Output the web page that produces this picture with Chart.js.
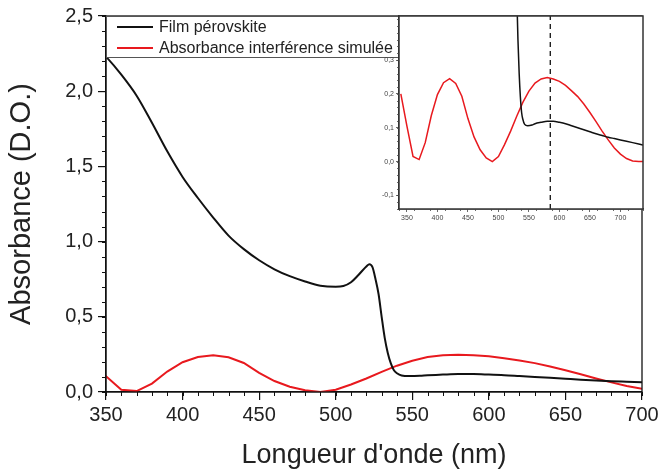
<!DOCTYPE html>
<html>
<head>
<meta charset="utf-8">
<script src="https://cdn.jsdelivr.net/npm/chart.js@4.4.1/dist/chart.umd.min.js"></script>
<style>
body { margin: 0; background: #fff; }
#wrap { position: relative; width: 659px; height: 472px; }
#wrap canvas { position: absolute; left: 0; top: 0; }
</style>
</head>
<body>
<div id="wrap">
<canvas id="mainChart" width="659" height="472"></canvas>
<canvas id="insetChart" width="659" height="472"></canvas>
</div>
<script>
/*---- donnees ----- */
var filmNm  = [340,350,360,370,380,390,400,410,420,430,440,450,460,470,480,490,500,505,510,515,520,522,524,526,528,530,532,534,536,538,540,543,548,555,560,570,580,590,600,610,620,630,640,650,660,670,680,690,700,710,720,730,740];
var filmAbs = [2.33,2.23,2.11,1.97,1.79,1.60,1.43,1.29,1.16,1.04,0.95,0.876,0.816,0.77,0.735,0.707,0.70,0.705,0.73,0.78,0.835,0.85,0.83,0.75,0.65,0.50,0.36,0.26,0.19,0.145,0.125,0.11,0.106,0.108,0.112,0.116,0.119,0.119,0.116,0.112,0.106,0.10,0.094,0.088,0.082,0.077,0.072,0.068,0.064,0.06,0.056,0.052,0.048];

var simNm  = [340,350,360,370,380,390,400,410,420,430,440,450,460,470,480,490,500,510,520,530,540,550,560,570,580,590,600,610,620,630,640,650,660,670,680,690,700,710,720,730,740];
var simAbs = [0.2,0.105,0.015,0.006,0.056,0.136,0.198,0.233,0.245,0.231,0.193,0.127,0.073,0.035,0.011,0.0,0.015,0.05,0.09,0.134,0.175,0.208,0.232,0.244,0.248,0.244,0.237,0.225,0.209,0.192,0.17,0.145,0.118,0.09,0.064,0.04,0.022,0.009,0.002,0.0,0.0];

var seriesLabels = ["Film pérovskite", "Absorbance interférence simulée"];
var markerNm = 585;

var mainXTicks  = [350,400,450,500,550,600,650,700];
var mainYTicks  = [0,0.5,1.0,1.5,2.0,2.5];
var insetXTicks = [350,400,450,500,550,600,650,700];
var insetYTicks = [-0.1,0,0.1,0.2,0.3];

var FONT = "'Liberation Sans', Arial, sans-serif";

function pts(xs, ys) {
  return xs.map(function (x, i) { return { x: x, y: ys[i] }; });
}
function virgule(v) {
  return v.toFixed(1).replace('.', ',');
}

/*---- plugins ----- */
var cadre = {
  id: 'cadre',
  beforeDatasetsDraw: function (chart, args, opts) {
    var a = chart.chartArea, ctx = chart.ctx;
    if (opts.fill) {
      ctx.save();
      ctx.fillStyle = opts.fill;
      ctx.fillRect(a.left, a.top, a.right - a.left, a.bottom - a.top);
      ctx.restore();
    }
  },
  afterDraw: function (chart, args, opts) {
    var a = chart.chartArea, ctx = chart.ctx;
    ctx.save();
    ctx.strokeStyle = opts.color;
    ctx.lineWidth = opts.width;
    ctx.strokeRect(a.left, a.top, a.right - a.left, a.bottom - a.top);
    ctx.restore();
  }
};

var petitsTraits = {
  id: 'petitsTraits',
  afterDraw: function (chart, args, opts) {
    var a = chart.chartArea, ctx = chart.ctx;
    var sx = chart.scales.x, sy = chart.scales.y;
    ctx.save();
    ctx.strokeStyle = opts.color;
    ctx.lineWidth = opts.width;
    var v, p;
    for (v = sx.min; v <= sx.max + 1e-9; v += opts.xStep) {
      p = Math.round(sx.getPixelForValue(v)) + 0.5;
      ctx.beginPath(); ctx.moveTo(p, a.bottom); ctx.lineTo(p, a.bottom + opts.len); ctx.stroke();
    }
    var start = Math.ceil(sy.min / opts.yStep - 1e-9) * opts.yStep;
    for (v = start; v <= sy.max + 1e-9; v += opts.yStep) {
      p = Math.round(sy.getPixelForValue(v)) + 0.5;
      ctx.beginPath(); ctx.moveTo(a.left, p); ctx.lineTo(a.left - opts.len, p); ctx.stroke();
    }
    ctx.restore();
  }
};

var legendeBoite = {
  id: 'legendeBoite',
  afterDraw: function (chart) {
    var ctx = chart.ctx, a = chart.chartArea;
    var x0 = a.left, y0 = a.top, w = 293, h = 41;
    ctx.save();
    ctx.fillStyle = '#fff';
    ctx.fillRect(x0, y0, w, h);
    ctx.strokeStyle = '#555';
    ctx.lineWidth = 1;
    ctx.strokeRect(x0 + 0.5, y0 + 0.5, w, h);
    ctx.font = '16px ' + FONT;
    ctx.textBaseline = 'middle';
    chart.data.datasets.forEach(function (ds, i) {
      var y = y0 + 11 + i * 21;
      ctx.strokeStyle = ds.borderColor;
      ctx.lineWidth = 2;
      ctx.beginPath(); ctx.moveTo(x0 + 11, y); ctx.lineTo(x0 + 47, y); ctx.stroke();
      ctx.fillStyle = '#222';
      ctx.fillText(ds.label, x0 + 53, y + 1);
    });
    ctx.restore();
  }
};

/*---- graphique principal ----- */
var ctx = document.getElementById('mainChart').getContext('2d');
var mainChart = new Chart(ctx, {
  type: 'line',
  data: {
    datasets: [{
      label: seriesLabels[0],
      data: pts(filmNm, filmAbs),
      borderColor: '#111',
      borderWidth: 2,
      pointRadius: 0,
      cubicInterpolationMode: 'monotone'
    }, {
      label: seriesLabels[1],
      data: pts(simNm, simAbs),
      borderColor: '#e8191e',
      borderWidth: 2,
      pointRadius: 0,
      tension: 0
    }]
  },
  options: {
    responsive: false,
    animation: false,
    layout: { padding: { top: 16, right: 17, left: 0, bottom: 0 } },
    plugins: {
      legend: { display: false },
      tooltip: { enabled: false },
      cadre: { color: '#111', width: 1.3 },
      petitsTraits: { color: '#111', width: 1, len: 4, xStep: 10, yStep: 0.1 }
    },
    scales: {
      x: {
        type: 'linear', min: 350, max: 700,
        afterFit: function (s) { s.height = 80; s.paddingLeft = 0; s.paddingRight = 0; },
        afterBuildTicks: function (s) { s.ticks = mainXTicks.map(function (v) { return { value: v }; }); },
        grid: { drawOnChartArea: false, color: '#111', tickLength: 8, lineWidth: 1.2 },
        border: { color: '#111', width: 1.3 },
        ticks: { color: '#222', font: { family: FONT, size: 20 }, padding: 3, maxRotation: 0 },
        title: { display: true, text: "Longueur d'onde (nm)", color: '#222', font: { family: FONT, size: 27 }, padding: { top: 0, bottom: 0 } }
      },
      y: {
        type: 'linear', min: 0, max: 2.5,
        afterFit: function (s) { s.width = 106; s.paddingTop = 0; s.paddingBottom = 0; },
        afterBuildTicks: function (s) { s.ticks = mainYTicks.map(function (v) { return { value: v }; }); },
        grid: { drawOnChartArea: false, color: '#111', tickLength: 8, lineWidth: 1.2 },
        border: { color: '#111', width: 1.3 },
        ticks: { color: '#222', font: { family: FONT, size: 20 }, padding: 5, callback: function (v) { return virgule(v); } },
        title: { display: true, text: 'Absorbance (D.O.)', color: '#222', font: { family: FONT, size: 29 }, padding: { top: 5, bottom: 0 } }
      }
    }
  },
  plugins: [cadre, petitsTraits, legendeBoite]
});

/*---- encart ----- */
var ctx2 = document.getElementById('insetChart').getContext('2d');
var insetChart = new Chart(ctx2, {
  type: 'line',
  data: {
    datasets: [{
      label: seriesLabels[0],
      data: pts(filmNm, filmAbs),
      borderColor: '#111',
      borderWidth: 1.5,
      pointRadius: 0,
      cubicInterpolationMode: 'monotone'
    }, {
      label: seriesLabels[1],
      data: pts(simNm, simAbs),
      borderColor: '#e8191e',
      borderWidth: 1.5,
      pointRadius: 0,
      tension: 0
    }, {
      label: 'repere',
      data: [{ x: markerNm, y: -0.14 }, { x: markerNm, y: 0.43 }],
      borderColor: '#111',
      borderWidth: 1.3,
      borderDash: [5, 4],
      pointRadius: 0
    }]
  },
  options: {
    responsive: false,
    animation: false,
    layout: { padding: { top: 16, right: 16, left: 370, bottom: 243 } },
    plugins: {
      legend: { display: false },
      tooltip: { enabled: false },
      cadre: { color: '#333', width: 1.5, fill: '#fff' },
      petitsTraits: { color: '#444', width: 0.8, len: 2, xStep: 25, yStep: 0.02 }
    },
    scales: {
      x: {
        type: 'linear', min: 337, max: 737,
        afterFit: function (s) { s.height = 20; s.paddingLeft = 0; s.paddingRight = 0; },
        afterBuildTicks: function (s) { s.ticks = insetXTicks.map(function (v) { return { value: v }; }); },
        grid: { drawOnChartArea: false, color: '#444', tickLength: 3, lineWidth: 0.8 },
        border: { color: '#333', width: 1.5 },
        ticks: { color: '#444', font: { family: FONT, size: 7 }, padding: 2, maxRotation: 0 }
      },
      y: {
        type: 'linear', min: -0.14, max: 0.43,
        afterFit: function (s) { s.width = 29; s.paddingTop = 0; s.paddingBottom = 0; },
        afterBuildTicks: function (s) { s.ticks = insetYTicks.map(function (v) { return { value: v }; }); },
        grid: { drawOnChartArea: false, color: '#444', tickLength: 3, lineWidth: 0.8 },
        border: { color: '#333', width: 1.5 },
        ticks: { color: '#444', font: { family: FONT, size: 7 }, padding: 2, callback: function (v) { return virgule(v); } }
      }
    }
  },
  plugins: [cadre, petitsTraits]
});
</script>
</body>
</html>
